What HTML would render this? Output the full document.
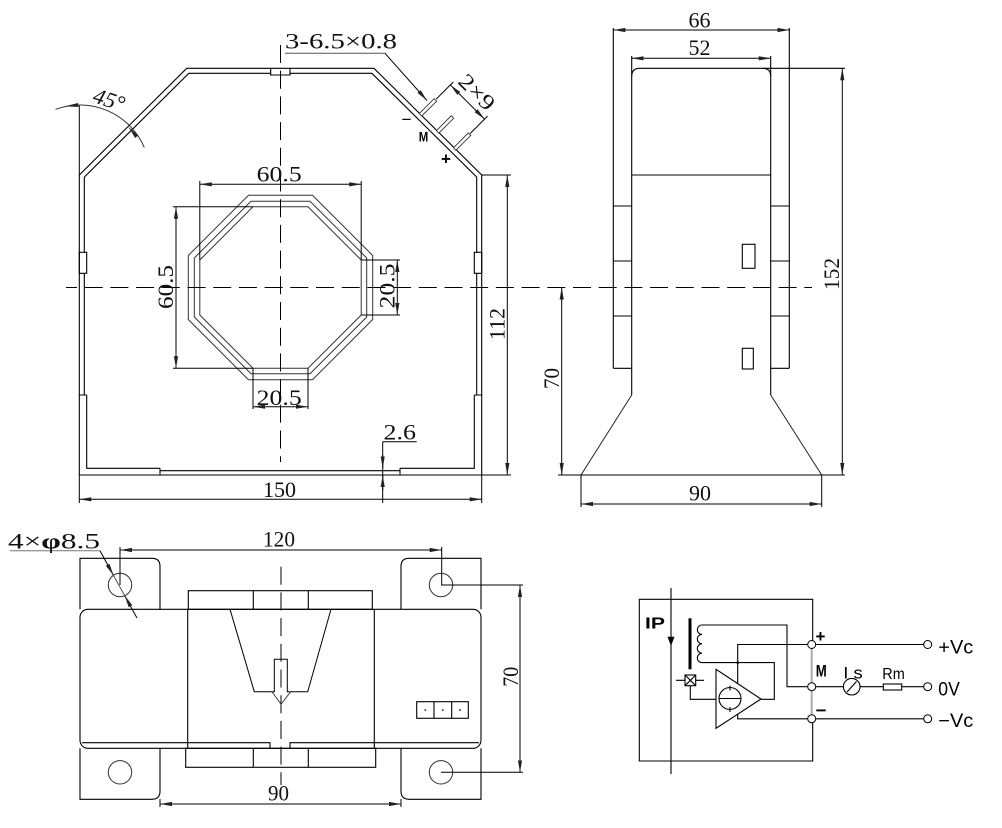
<!DOCTYPE html>
<html><head><meta charset="utf-8"><style>
html,body{margin:0;padding:0;background:#fff;}
svg{display:block;}
.d{font-family:"Liberation Serif","Noto Serif CJK SC",serif;font-size:22px;fill:#111;}
.s{font-family:"Liberation Sans","Noto Sans CJK SC",sans-serif;fill:#000;}
</style></head><body>
<svg width="1002" height="828" viewBox="0 0 1002 828" xmlns="http://www.w3.org/2000/svg">
<defs>
<marker id="a" viewBox="0 0 12 5" refX="12" refY="2.5" markerWidth="12" markerHeight="5" markerUnits="userSpaceOnUse" orient="auto-start-reverse"><path d="M0,0.4 L12,2.5 L0,4.6 Z" fill="#222"/></marker>
</defs>
<rect width="1002" height="828" fill="#fff"/>

<!-- ============ TOP VIEW ============ -->
<g fill="none" stroke="#000" stroke-width="1.1">
<path d="M79.3,475 L79.3,175 L186.7,68.3 L374,68.3 L481.7,175 L481.7,475 Z"/>
<path d="M84.3,177.1 L188.8,73.3 L270.7,73.3 M290,73.3 L371.9,73.3 L476.7,177.1 L476.7,252.3 M476.7,273.3 L476.7,395 M474.3,395 L474.3,468.3 L400,468.3 M160,468.3 L86.7,468.3 L86.7,395 M84.3,395 L84.3,273.3 M84.3,252.3 L84.3,177.1"/>
<path d="M270.7,68.3 L270.7,75 L290,75 L290,68.3"/>
<rect x="79.3" y="252.3" width="7.4" height="21"/>
<rect x="474.3" y="252.3" width="7.4" height="21"/>
<path d="M79.3,395 L86.7,395 M474.3,395 L481.7,395"/>
<path d="M160,468.3 L160,475 M400,468.3 L400,475 M160,470.7 L400,470.7"/>
</g>
<!-- pins -->
<g fill="#fff" stroke="#333" stroke-width="0.9">
<polygon points="419.3,113.6 434.1,98.7 436.6,101.2 421.7,116.0"/>
<polygon points="436.4,130.7 451.2,115.8 453.7,118.3 438.8,133.1"/>
<polygon points="453.5,147.8 468.3,132.9 470.8,135.4 455.9,150.2"/>
</g>
<!-- octagons -->
<g fill="none" stroke="#333" stroke-width="1">
<polygon points="248.5,195.3 312.5,195.3 372.7,255.5 372.7,319.5 312.5,379.7 248.5,379.7 188.3,319.5 188.3,255.5"/>
<polygon points="251,201.3 310,201.3 366.7,258 366.7,317 310,373.7 251,373.7 194.3,317 194.3,258"/>
<polygon points="253,206.8 308,206.8 361.2,260 361.2,315 308,368.2 253,368.2 199.8,315 199.8,260"/>
</g>
<!-- center lines -->
<g stroke="#000" stroke-width="1" stroke-dasharray="18 7.7" fill="none">
<line x1="66" y1="287.5" x2="812" y2="287.5" stroke-dashoffset="7"/>
<line x1="280.5" y1="45" x2="280.5" y2="462"/>
<line x1="281" y1="566.7" x2="281" y2="785"/>
</g>
<!-- top view dimensions -->
<g stroke="#000" stroke-width="1" fill="none">
<line x1="79.3" y1="475" x2="79.3" y2="503"/><line x1="481.7" y1="475" x2="481.7" y2="503"/>
<line x1="79.3" y1="499.3" x2="481.7" y2="499.3" marker-start="url(#a)" marker-end="url(#a)"/>
<line x1="481.7" y1="175" x2="511" y2="175"/><line x1="481.7" y1="475" x2="511" y2="475"/>
<line x1="507.3" y1="175" x2="507.3" y2="475" marker-start="url(#a)" marker-end="url(#a)"/>
<line x1="199.8" y1="181" x2="199.8" y2="260"/><line x1="361.2" y1="181" x2="361.2" y2="260"/>
<line x1="199.8" y1="184.3" x2="361.2" y2="184.3" marker-start="url(#a)" marker-end="url(#a)"/>
<line x1="173" y1="206.8" x2="253" y2="206.8"/><line x1="173" y1="368.2" x2="253" y2="368.2"/>
<line x1="176" y1="206.8" x2="176" y2="368.2" marker-start="url(#a)" marker-end="url(#a)"/>
<line x1="361.2" y1="260" x2="400" y2="260"/><line x1="361.2" y1="315" x2="400" y2="315"/>
<line x1="397.3" y1="260" x2="397.3" y2="315" marker-start="url(#a)" marker-end="url(#a)"/>
<line x1="253" y1="368.2" x2="253" y2="409"/><line x1="308" y1="368.2" x2="308" y2="409"/>
<line x1="253" y1="406.7" x2="308" y2="406.7" marker-start="url(#a)" marker-end="url(#a)"/>
<line x1="382.7" y1="441.7" x2="382.7" y2="503"/>
<line x1="382.7" y1="441.7" x2="416.7" y2="441.7"/>
<line x1="382.7" y1="455" x2="382.7" y2="468.3" marker-end="url(#a)"/>
<line x1="382.7" y1="490" x2="382.7" y2="475.2" marker-end="url(#a)"/>
<line x1="285" y1="53.3" x2="385" y2="53.3" stroke="#555"/>
<line x1="385" y1="53.3" x2="427" y2="100.5" marker-end="url(#a)"/>
<line x1="436" y1="99.3" x2="453.4" y2="81.9"/>
<line x1="470.2" y1="133.5" x2="487.6" y2="116.1"/>
<line x1="450.35" y1="84.95" x2="484.55" y2="119.15" marker-start="url(#a)" marker-end="url(#a)"/>
<line x1="79.3" y1="105" x2="79.3" y2="175"/>
<path d="M55.5,109.45 A70,70 0 0 1 144.3,147.4" stroke="#333"/>
</g>
<g fill="#222">
<polygon points="65,106.3 78,103 78.4,107"/>
<polygon points="128.3,126.7 138.2,135.4 135.2,138"/>
</g>
<!-- top view texts -->
<text class="d" x="279.5" y="497" text-anchor="middle" textLength="33" lengthAdjust="spacingAndGlyphs">150</text>
<text class="d" x="497" y="331.5" text-anchor="middle" transform="rotate(-90 497 324)" textLength="32" lengthAdjust="spacingAndGlyphs">112</text>
<text class="d" x="279.2" y="181.7" text-anchor="middle" textLength="45" lengthAdjust="spacingAndGlyphs">60.5</text>
<text class="d" x="165.5" y="294.5" text-anchor="middle" transform="rotate(-90 165.5 287)" textLength="44" lengthAdjust="spacingAndGlyphs">60.5</text>
<text class="d" x="387" y="293.5" text-anchor="middle" transform="rotate(-90 387 286)" textLength="45" lengthAdjust="spacingAndGlyphs">20.5</text>
<text class="d" x="279.2" y="405" text-anchor="middle" textLength="45" lengthAdjust="spacingAndGlyphs">20.5</text>
<text class="d" x="383.5" y="439.3" textLength="32.5" lengthAdjust="spacingAndGlyphs">2.6</text>
<text class="d" x="285" y="48.3" textLength="112" lengthAdjust="spacingAndGlyphs">3-6.5×0.8</text>
<text class="d" x="477" y="99.5" text-anchor="middle" font-size="23" transform="rotate(45 477 92)" textLength="42" lengthAdjust="spacingAndGlyphs">2×9</text>
<text class="d" x="109" y="107" text-anchor="middle" font-size="20" font-style="italic" transform="rotate(18 109 100)" textLength="32" lengthAdjust="spacingAndGlyphs">45°</text>
<text class="s" x="406.5" y="125" text-anchor="middle" font-size="17">−</text>
<text class="s" x="423.5" y="141.7" text-anchor="middle" font-size="14" font-weight="bold" textLength="9.5" lengthAdjust="spacingAndGlyphs">M</text>
<text class="s" x="446" y="164.5" text-anchor="middle" font-size="17" font-weight="bold">+</text>

<!-- ============ SIDE VIEW ============ -->
<g fill="none" stroke="#000" stroke-width="1.1">
<line x1="613.3" y1="28" x2="613.3" y2="368.3"/>
<line x1="789.3" y1="28" x2="789.3" y2="368.3"/>
<path d="M613.3,206 L631.7,206 M613.3,261 L631.7,261 M613.3,316 L631.7,316 M613.3,368.3 L631.7,368.3"/>
<path d="M770.7,206 L789.3,206 M770.7,261 L789.3,261 M770.7,316 L789.3,316 M770.7,368.3 L789.3,368.3"/>
<path d="M631.7,395 L631.7,76.3 Q631.7,68.3 639.7,68.3 L762.7,68.3 Q770.7,68.3 770.7,76.3 L770.7,395"/>
<line x1="631.7" y1="56" x2="631.7" y2="76"/><line x1="770.7" y1="56" x2="770.7" y2="76"/>
<line x1="762.7" y1="68.3" x2="845" y2="68.3"/>
<line x1="631.7" y1="175" x2="770.7" y2="175"/>
<rect x="742.3" y="244.3" width="12.7" height="24"/>
<rect x="742.3" y="348.3" width="11" height="20.7"/>
<path d="M631.7,395 L581,475 M770.7,395 L821.7,475" stroke="#222" stroke-width="1"/>
<line x1="558" y1="475" x2="845" y2="475"/>
</g>
<g stroke="#000" stroke-width="1" fill="none">
<line x1="613.3" y1="30" x2="789.3" y2="30" marker-start="url(#a)" marker-end="url(#a)"/>
<line x1="631.7" y1="58.3" x2="770.7" y2="58.3" marker-start="url(#a)" marker-end="url(#a)"/>
<line x1="842.3" y1="68.3" x2="842.3" y2="475" marker-start="url(#a)" marker-end="url(#a)"/>
<line x1="561.7" y1="287.5" x2="561.7" y2="475" marker-start="url(#a)" marker-end="url(#a)"/>
<line x1="581" y1="475" x2="581" y2="507"/><line x1="821.7" y1="475" x2="821.7" y2="507"/>
<line x1="581" y1="504" x2="821.7" y2="504" marker-start="url(#a)" marker-end="url(#a)"/>
</g>
<text class="d" x="699.5" y="27.3" text-anchor="middle" textLength="22" lengthAdjust="spacingAndGlyphs">66</text>
<text class="d" x="699.5" y="55" text-anchor="middle" textLength="22" lengthAdjust="spacingAndGlyphs">52</text>
<text class="d" x="700" y="500.7" text-anchor="middle" textLength="22" lengthAdjust="spacingAndGlyphs">90</text>
<text class="d" x="831.5" y="281.5" text-anchor="middle" transform="rotate(-90 831.5 274)" textLength="32" lengthAdjust="spacingAndGlyphs">152</text>
<text class="d" x="551.5" y="386" text-anchor="middle" transform="rotate(-90 551.5 378.5)" textLength="21" lengthAdjust="spacingAndGlyphs">70</text>

<!-- ============ BOTTOM VIEW ============ -->
<g fill="none" stroke="#000" stroke-width="1.1">
<path d="M80,609.3 L80,558.3 L152,558.3 Q160,558.3 160,566.3 L160,609.3"/>
<path d="M481,609.3 L481,558.3 L409,558.3 Q401,558.3 401,566.3 L401,609.3"/>
<path d="M80,748.3 L80,799.3 L152,799.3 Q160,799.3 160,791.3 L160,748.3"/>
<path d="M481,748.3 L481,799.3 L409,799.3 Q401,799.3 401,791.3 L401,748.3"/>
<rect x="80" y="609.3" width="401" height="139" rx="8" ry="8"/>
<path d="M82,742.7 L270,742.7 L270,748.3 M290,748.3 L290,742.7 L479,742.7"/>
<rect x="188.3" y="590.7" width="184" height="18.6"/>
<path d="M253.3,590.7 L253.3,609.3 M308.3,590.7 L308.3,609.3"/>
<path d="M187.7,609.3 L187.7,748.3 M374.3,609.3 L374.3,748.3"/>
<rect x="185.7" y="748.3" width="190" height="19"/>
<path d="M253.3,748.3 L253.3,767.3 M308.3,748.3 L308.3,767.3"/>
<path d="M230,609.3 L254.3,691.7 L274.3,691.7 L274.3,659.3 L287.3,659.3 L287.3,691.7 L307.7,691.7 L331,609.3" stroke-width="1"/>
<path d="M272,691.7 L281,704.3 L290.7,691.7" stroke="#333" stroke-width="0.9"/>
<rect x="416.7" y="701.7" width="51.6" height="16.6"/>
<path d="M434,701.7 L434,718.3 M451.7,701.7 L451.7,718.3"/>
</g>
<g fill="#444"><circle cx="425.3" cy="710" r="1"/><circle cx="442.8" cy="710" r="1"/><circle cx="460" cy="710" r="1"/></g>
<g fill="none" stroke="#333" stroke-width="1">
<circle cx="120" cy="585" r="11.7"/><circle cx="441" cy="585" r="11.7"/>
<circle cx="120" cy="772.3" r="11.7"/><circle cx="441" cy="772.3" r="11.7"/>
</g>
<g stroke="#000" stroke-width="1" fill="none">
<line x1="120" y1="547" x2="120" y2="585"/><line x1="441.7" y1="547" x2="441.7" y2="585"/>
<line x1="120" y1="550" x2="441.7" y2="550" marker-start="url(#a)" marker-end="url(#a)"/>
<line x1="441" y1="585" x2="523" y2="585"/><line x1="441" y1="772.3" x2="523" y2="772.3"/>
<line x1="520" y1="585" x2="520" y2="772.3" marker-start="url(#a)" marker-end="url(#a)"/>
<line x1="160" y1="799" x2="160" y2="807"/><line x1="401" y1="799" x2="401" y2="807"/>
<line x1="160" y1="804" x2="401" y2="804" marker-start="url(#a)" marker-end="url(#a)"/>
<line x1="10" y1="550.7" x2="100" y2="550.7" stroke="#777"/>
<line x1="100" y1="550.7" x2="113.4" y2="575.3" marker-end="url(#a)"/>
<line x1="137" y1="618" x2="124.7" y2="595.7" marker-end="url(#a)"/>
<line x1="113.4" y1="575.3" x2="124.7" y2="595.7" stroke="#555"/>
</g>
<text class="d" x="279" y="546.7" text-anchor="middle" textLength="32" lengthAdjust="spacingAndGlyphs">120</text>
<text class="d" x="278.5" y="800.7" text-anchor="middle" textLength="21" lengthAdjust="spacingAndGlyphs">90</text>
<text class="d" x="510.5" y="684" text-anchor="middle" transform="rotate(-90 510.5 676.7)" textLength="20" lengthAdjust="spacingAndGlyphs">70</text>
<text class="d" x="8" y="548.3" textLength="92" lengthAdjust="spacingAndGlyphs">4×<tspan font-weight="bold">φ</tspan>8.5</text>

<!-- ============ SCHEMATIC ============ -->
<g fill="none" stroke="#000" stroke-width="1.1">
<path d="M812.7,640.5 L812.7,599.3 L639.3,599.3 L639.3,761 L812.7,761 L812.7,722.8"/>
<line x1="671" y1="588" x2="671" y2="774"/>
<line x1="690" y1="618.3" x2="690" y2="669.3" stroke-width="3"/>
<path d="M702,625 a4.7,4.7 0 0 0 0,9.4 a4.7,4.7 0 0 0 0,9.4 a4.7,4.7 0 0 0 0,9.4 a4.7,4.7 0 0 0 0,9.4"/>
<path d="M702,625 L787,625 L787,686.7 L807.7,686.7"/>
<path d="M702,662.6 L774.3,662.6 L774.3,699.3 L761,699.3"/>
<path d="M737.7,683.5 L737.7,644.5 L807.7,644.5"/>
<path d="M737.7,714 L737.7,718.8 L807.7,718.8"/>
<polygon points="716,669.3 716,728.3 761,699"/>
<circle cx="730" cy="698.5" r="11"/>
<path d="M719,698.5 L741,698.5 M730,685.5 L730,690.5 M730,707 L730,712"/>
<rect x="685" y="675" width="10.7" height="10.7"/>
<path d="M685,675 L695.7,685.7 M695.7,675 L685,685.7 M676,680.3 L685,680.3 M695.7,680.3 L704,680.3"/>
<path d="M690.3,685.7 L690.3,699.3 L716,699.3"/>
<line x1="815.7" y1="644.5" x2="923.7" y2="644.5"/>
<line x1="815.7" y1="686.7" x2="843.4" y2="686.7"/>
<line x1="860" y1="686.7" x2="883.3" y2="686.7"/>
<line x1="901.7" y1="686.7" x2="923.7" y2="686.7"/>
<line x1="815.7" y1="718.8" x2="923.7" y2="718.8"/>
<circle cx="851.7" cy="686.7" r="8.3"/>
<line x1="847" y1="692" x2="856.5" y2="681.5"/>
<rect x="883.3" y="684" width="18.4" height="6"/>
</g>
<line x1="811.7" y1="648.5" x2="811.7" y2="714.8" stroke="#aaa" stroke-width="2"/>
<circle cx="737.7" cy="662.6" r="1.3" fill="#000"/>
<polygon points="667.5,636.7 674.5,636.7 671,646" fill="#000"/>
<g fill="#fff" stroke="#000" stroke-width="1">
<circle cx="811.7" cy="644.5" r="4"/><circle cx="811.7" cy="686.7" r="4"/><circle cx="811.7" cy="718.8" r="4"/>
<circle cx="927.7" cy="644.5" r="4"/><circle cx="927.7" cy="686.7" r="4"/><circle cx="927.7" cy="718.8" r="4"/>
</g>
<text class="s" x="645" y="628.5" font-size="16" font-weight="bold" textLength="20" lengthAdjust="spacingAndGlyphs">IP</text>
<text class="s" x="815.5" y="642" font-size="17" font-weight="bold">+</text>
<text class="s" x="815.7" y="676.7" font-size="17" font-weight="bold" textLength="11" lengthAdjust="spacingAndGlyphs">M</text>
<text class="s" x="815.7" y="716" font-size="17" font-weight="bold" textLength="11" lengthAdjust="spacingAndGlyphs">−</text>
<text class="s" x="843.3" y="678.5" font-size="17" textLength="19.5" lengthAdjust="spacingAndGlyphs">I s</text>
<text class="s" x="882.3" y="679" font-size="16" textLength="22.5" lengthAdjust="spacingAndGlyphs">Rm</text>
<text class="s" x="938.3" y="653.5" font-size="19" textLength="35" lengthAdjust="spacingAndGlyphs">+Vc</text>
<text class="s" x="938.3" y="695.3" font-size="19" textLength="21.5" lengthAdjust="spacingAndGlyphs">0V</text>
<text class="s" x="938.3" y="727" font-size="19" textLength="35" lengthAdjust="spacingAndGlyphs">−Vc</text>
</svg>
</body></html>
